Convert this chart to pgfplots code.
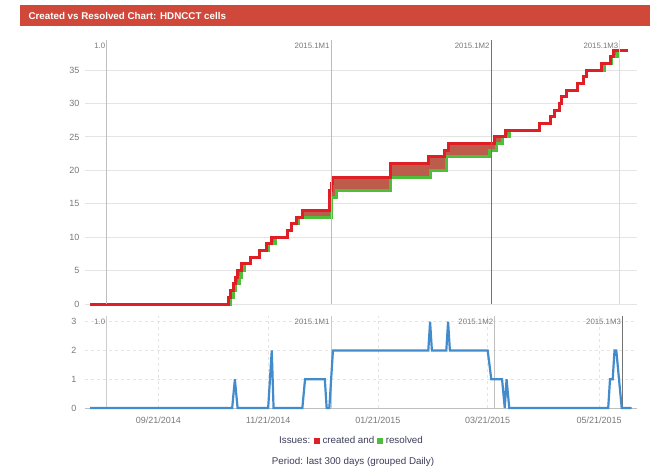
\documentclass[border=0pt]{standalone}
\usepackage{fontspec}
\setmainfont{Liberation Sans}
\usepackage{pgfplots}
\pgfplotsset{compat=1.18}
\usepgfplotslibrary{fillbetween}

\definecolor{jred}{RGB}{222,32,38}
\definecolor{jgreen}{RGB}{78,190,60}
\definecolor{jfill}{RGB}{190,92,76}
\definecolor{jblue}{RGB}{66,140,205}
\definecolor{jbar}{RGB}{208,72,58}
\definecolor{jgrid}{RGB}{228,228,228}
\definecolor{jtext}{RGB}{120,120,120}
\definecolor{jdark}{RGB}{60,60,90}

\pgfplotsset{
  jira/.style={
    scale only axis, clip=false,
    xmin=-2.8, xmax=304,
    axis line style={draw=none},
    major tick length=0pt,
    tick label style={font=\fontsize{9}{10}\selectfont, text=jtext},
    /pgf/number format/assume math mode=true,
  },
}

\begin{document}
\begin{tikzpicture}
\path (0pt,0pt) rectangle (672pt,-475pt);
% title bar
\fill[jbar] (20pt,-5pt) rectangle (650pt,-26pt);
\node[anchor=west, text=white, font=\bfseries\fontsize{9.8}{10}\selectfont] at (25pt,-15.5pt) {Created vs Resolved Chart: HDNCCT cells};

% cumulative chart
\begin{axis}[jira, set layers,
  at={(85pt,-304pt)}, anchor=south west,
  width=552pt, height=264pt,
  ymin=0, ymax=39.5,
  xtick=\empty, ytick={0,5,...,35},
  ymajorgrids, grid style={jgrid, line width=1pt},
  yticklabel style={xshift=-2pt},
]
\addplot[jgreen, line width=3pt, const plot, name path=res] coordinates {
  (0,0) (78,1) (80,2) (81,3) (83,4) (84,5) (86,6) (89,7) (94,8) (99,9)
  (103,10) (110,11) (112,12) (116,13) (134,16) (137,17) (167,19) (189,20)
  (198,22) (222,23) (226,24) (229,25) (233,26) (250,27) (256,28) (258,29)
  (261,30) (262,31) (265,32) (271,33) (274,34) (276,35) (286,36) (290,37)
  (293,38) (299,38)
};
\addplot[jred, line width=3pt, const plot, name path=cre] coordinates {
  (0,0) (77,1) (78,2) (80,3) (81,4) (82,5) (84,6) (89,7) (94,8) (98,9)
  (101,10) (110,11) (112,12) (115,13) (118,14) (133,17) (134,18) (135,19)
  (167,21) (188,22) (197,23) (199,24) (225,25) (231,26) (250,27) (256,28)
  (258,29) (261,30) (262,31) (265,32) (271,33) (274,34) (276,35) (284,36)
  (289,37) (291,38) (299,38)
};
\addplot[jfill] fill between[of=cre and res];
% version markers
\draw[black!25, line width=1pt] (axis cs:9.4,0) -- (axis cs:9.4,39.5);
\draw[black!27, line width=1pt] (axis cs:134,0) -- (axis cs:134,39.5);
\draw[black!55, line width=1pt] (axis cs:223,0) -- (axis cs:223,39.5);
\draw[black!15, line width=1pt] (axis cs:294.5,0) -- (axis cs:294.5,39.5);
\begin{scope}[every node/.style={anchor=north east, text=jtext, font=\fontsize{7.8}{8}\selectfont, inner sep=1.5pt}]
\node at (axis cs:9.4,39.3) {1.0};
\node at (axis cs:134,39.3) {2015.1M1};
\node at (axis cs:223,39.3) {2015.1M2};
\node at (axis cs:294.5,39.3) {2015.1M3};
\end{scope}
\end{axis}

% daily chart
\begin{axis}[jira,
  at={(85pt,-408pt)}, anchor=south west,
  width=552pt, height=92pt,
  ymin=0, ymax=3.2,
  ytick={0,1,2,3},
  xtick={38,99,160,221,283},
  xticklabels={09/21/2014,11/21/2014,01/21/2015,03/21/2015,05/21/2015},
  ymajorgrids, xmajorgrids,
  grid style={jgrid, line width=0.8pt, dashed},
  yticklabel style={xshift=-5pt},
  xticklabel style={yshift=-5pt},
]
\draw[black!25, line width=1pt] (axis cs:-2.8,0) -- (axis cs:304,0);
\draw[black!20, line width=1pt] (axis cs:9.4,0) -- (axis cs:9.4,3.2);
\draw[black!20, line width=1pt] (axis cs:134,0) -- (axis cs:134,3.2);
\draw[black!25, line width=1pt] (axis cs:225,0) -- (axis cs:225,3.2);
\draw[black!55, line width=1pt] (axis cs:296,0) -- (axis cs:296,3.2);
\begin{scope}[every node/.style={anchor=north east, text=jtext, font=\fontsize{7.8}{8}\selectfont, inner sep=1.5pt}]
\node at (axis cs:9.4,3.15) {1.0};
\node at (axis cs:134,3.15) {2015.1M1};
\node at (axis cs:225,3.15) {2015.1M2};
\node at (axis cs:296,3.15) {2015.1M3};
\end{scope}
\addplot[jblue, line width=2.2pt] coordinates {
  (0,0) (79,0) (80.5,1) (82,0) (99,0) (100,1) (101,2) (102,0) (118,0)
  (119.5,1) (130.5,1) (131.5,0) (133,0) (134,1) (135,2) (188,2) (189,3)
  (190,2) (198,2) (199,3) (200,2) (221,2) (223,1) (229,1) (230.5,0)
  (231.5,1) (233,0) (288,0) (289,1) (290.5,1) (291.5,2) (292.5,2)
  (295.5,0) (301,0)
};
\end{axis}

% legend and footer
\node[text=jdark, font=\fontsize{9.8}{10}\selectfont] at (351pt,-440pt)
  {Issues: \textcolor{jred}{\rule{6pt}{6pt}} created and \textcolor{jgreen}{\rule{6pt}{6pt}} resolved};
\node[text=jdark, font=\fontsize{9.8}{10}\selectfont] at (353pt,-462pt)
  {Period: last 300 days (grouped Daily)};
\end{tikzpicture}
\end{document}
